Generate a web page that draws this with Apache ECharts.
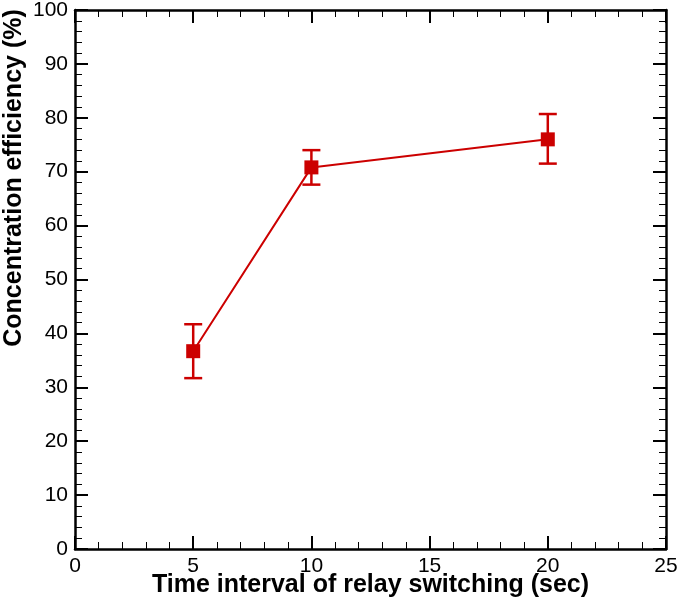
<!DOCTYPE html>
<html><head><meta charset="utf-8">
<script src="https://cdn.jsdelivr.net/npm/echarts@6/dist/echarts.min.js"></script>
<style>html,body{margin:0;padding:0;background:#fff}#c{width:680px;height:602px}</style>
</head><body><div id="c"></div>
<script>
const xValues = [5, 10, 20];
const yValues = [36.7, 70.8, 76.0];
const errLow = [31.7, 67.6, 71.5];
const errHigh = [41.7, 74.0, 80.7];
const xTitle = 'Time interval of relay switching (sec)';
const yTitle = 'Concentration efficiency (%)';

const red = '#cc0000';
const chart = echarts.init(document.getElementById('c'));
const font = 'Liberation Sans, Arial, sans-serif';
function axisCommon(show) {
  return {
    axisLine: {show: true, onZero: false, lineStyle: {color: '#000', width: 2.5}},
    axisTick: {show: true, inside: true, length: 13, lineStyle: {color: '#000', width: 2}},
    minorTick: {show: true, splitNumber: 5, length: 7, lineStyle: {color: '#000', width: 1}},
    splitLine: {show: false},
    axisLabel: {show: show, color: '#000', fontSize: 21, fontFamily: font, margin: 7}
  };
}
const pts = xValues.map((x, i) => [x, yValues[i]]);
const errs = xValues.map((x, i) => [x, errLow[i], errHigh[i]]);
chart.setOption({
  animation: false,
  grid: {left: 75, right: 14, top: 10, bottom: 53, containLabel: false, outerBoundsMode: 'none'},
  graphic: [{
    type: 'text', x: 14, y: 178, rotation: Math.PI / 2,
    style: {text: yTitle, fill: '#000', font: 'bold 25px ' + font, align: 'center', verticalAlign: 'middle'}
  }],
  xAxis: [
    Object.assign({type: 'value', min: 0, max: 25, interval: 5, position: 'bottom',
      name: xTitle, nameLocation: 'middle', nameGap: 24, nameMoveOverlap: false,
      nameTextStyle: {fontSize: 25, fontWeight: 'bold', color: '#000', fontFamily: font}}, axisCommon(true)),
    Object.assign({type: 'value', min: 0, max: 25, interval: 5, position: 'top'}, axisCommon(false))
  ],
  yAxis: [
    Object.assign({type: 'value', min: 0, max: 100, interval: 10, position: 'left'}, axisCommon(true)),
    Object.assign({type: 'value', min: 0, max: 100, interval: 10, position: 'right'}, axisCommon(false))
  ],
  series: [
    {
      type: 'custom', xAxisIndex: 0, yAxisIndex: 0, data: errs, z: 3,
      renderItem: function (params, api) {
        const x = api.value(0);
        const lo = api.coord([x, api.value(1)]);
        const hi = api.coord([x, api.value(2)]);
        const hw = 9;
        const st = {stroke: red, lineWidth: 2.5};
        return {type: 'group', children: [
          {type: 'line', shape: {x1: lo[0], y1: lo[1], x2: hi[0], y2: hi[1]}, style: st},
          {type: 'line', shape: {x1: lo[0] - hw, y1: lo[1], x2: lo[0] + hw, y2: lo[1]}, style: st},
          {type: 'line', shape: {x1: hi[0] - hw, y1: hi[1], x2: hi[0] + hw, y2: hi[1]}, style: st}
        ]};
      }
    },
    {
      type: 'line', data: pts, xAxisIndex: 0, yAxisIndex: 0, z: 4,
      symbol: 'rect', symbolSize: 14,
      lineStyle: {color: red, width: 2},
      itemStyle: {color: red}
    }
  ]
});
</script></body></html>
